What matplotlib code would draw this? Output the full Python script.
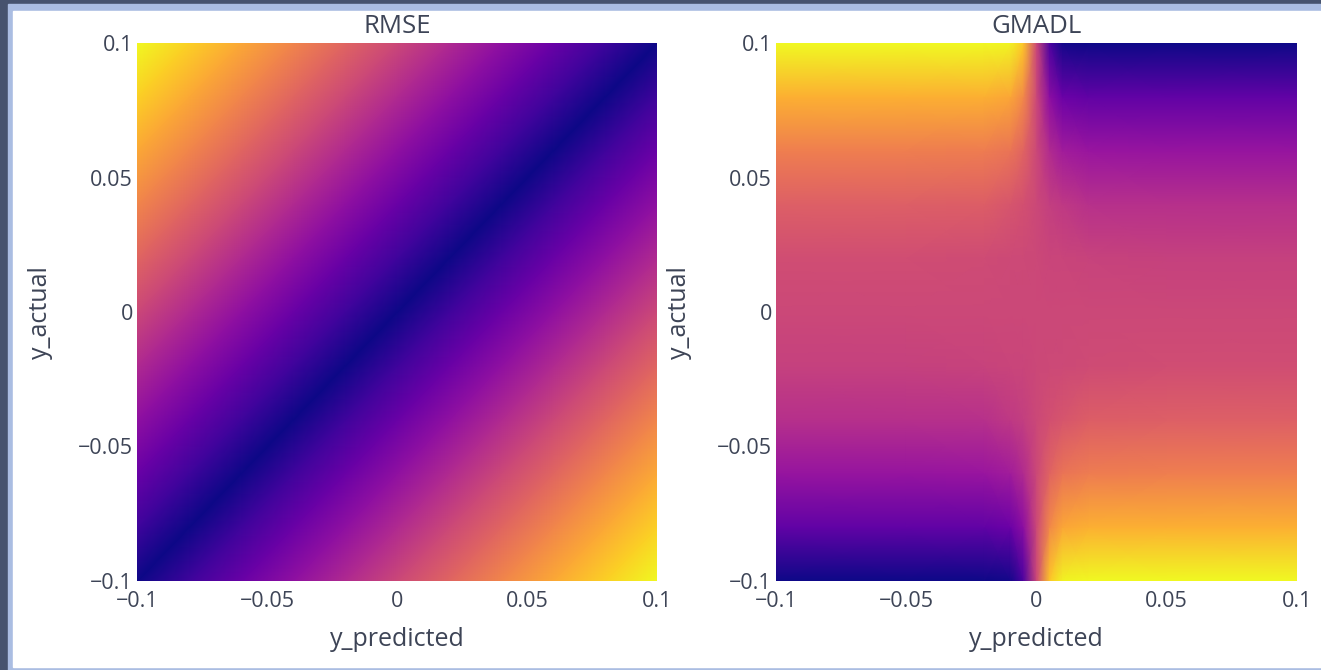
import matplotlib.pyplot as plt
from matplotlib.colors import LinearSegmentedColormap
from matplotlib.patches import Rectangle
import numpy as np

# Grelha de pontos (y_predicted nas colunas, y_actual nas linhas, de baixo para cima)
y_predicted_rmse = [-0.1, -0.08, -0.06, -0.04, -0.02, 0, 0.02, 0.04, 0.06, 0.08, 0.1]
y_actual_rmse = [-0.1, -0.08, -0.06, -0.04, -0.02, 0, 0.02, 0.04, 0.06, 0.08, 0.1]
rmse = [
    [0.00, 0.02, 0.04, 0.06, 0.08, 0.10, 0.12, 0.14, 0.16, 0.18, 0.20],
    [0.02, 0.00, 0.02, 0.04, 0.06, 0.08, 0.10, 0.12, 0.14, 0.16, 0.18],
    [0.04, 0.02, 0.00, 0.02, 0.04, 0.06, 0.08, 0.10, 0.12, 0.14, 0.16],
    [0.06, 0.04, 0.02, 0.00, 0.02, 0.04, 0.06, 0.08, 0.10, 0.12, 0.14],
    [0.08, 0.06, 0.04, 0.02, 0.00, 0.02, 0.04, 0.06, 0.08, 0.10, 0.12],
    [0.10, 0.08, 0.06, 0.04, 0.02, 0.00, 0.02, 0.04, 0.06, 0.08, 0.10],
    [0.12, 0.10, 0.08, 0.06, 0.04, 0.02, 0.00, 0.02, 0.04, 0.06, 0.08],
    [0.14, 0.12, 0.10, 0.08, 0.06, 0.04, 0.02, 0.00, 0.02, 0.04, 0.06],
    [0.16, 0.14, 0.12, 0.10, 0.08, 0.06, 0.04, 0.02, 0.00, 0.02, 0.04],
    [0.18, 0.16, 0.14, 0.12, 0.10, 0.08, 0.06, 0.04, 0.02, 0.00, 0.02],
    [0.20, 0.18, 0.16, 0.14, 0.12, 0.10, 0.08, 0.06, 0.04, 0.02, 0.00],
]

# GMADL (valor relativo)
y_predicted_gmadl = [-0.1, -0.05, -0.02, -0.01, -0.005, 0, 0.005, 0.01, 0.02, 0.05, 0.1]
y_actual_gmadl = [-0.1, -0.08, -0.06, -0.04, -0.02, 0, 0.02, 0.04, 0.06, 0.08, 0.1]
gmadl = [
    [-1.00, -1.00, -1.00, -0.97, -0.75, 0, 0.75, 0.97, 1.00, 1.00, 1.00],
    [-0.64, -0.64, -0.64, -0.59, -0.42, 0, 0.42, 0.59, 0.64, 0.64, 0.64],
    [-0.36, -0.36, -0.35, -0.30, -0.19, 0, 0.19, 0.30, 0.35, 0.36, 0.36],
    [-0.16, -0.16, -0.15, -0.10, -0.06, 0, 0.06, 0.10, 0.15, 0.16, 0.16],
    [-0.04, -0.04, -0.03, -0.015, -0.008, 0, 0.008, 0.015, 0.03, 0.04, 0.04],
    [0, 0, 0, 0, 0, 0, 0, 0, 0, 0, 0],
    [0.04, 0.04, 0.03, 0.015, 0.008, 0, -0.008, -0.015, -0.03, -0.04, -0.04],
    [0.16, 0.16, 0.15, 0.10, 0.06, 0, -0.06, -0.10, -0.15, -0.16, -0.16],
    [0.36, 0.36, 0.35, 0.30, 0.19, 0, -0.19, -0.30, -0.35, -0.36, -0.36],
    [0.64, 0.64, 0.64, 0.59, 0.42, 0, -0.42, -0.59, -0.64, -0.64, -0.64],
    [1.00, 1.00, 1.00, 0.97, 0.75, 0, -0.75, -0.97, -1.00, -1.00, -1.00],
]

ticks = [-0.1, -0.05, 0, 0.05, 0.1]
tick_labels = ["\u22120.1", "\u22120.05", "0", "0.05", "0.1"]

# Escala Plasma do plotly
plasma = LinearSegmentedColormap.from_list("plasma_plotly", [
    "#0d0887", "#46039f", "#7201a8", "#9c179e", "#bd3786",
    "#d8576b", "#ed7953", "#fb9f3a", "#fdca26", "#f0f921"])

plt.rcParams['font.family'] = ['Open Sans', 'DejaVu Sans']
cor_texto = '#3d4456'

W, H = 1321, 670
fig = plt.figure(figsize=(W / 100, H / 100), dpi=100)
fig.patch.set_facecolor('#46536e')

# moldura da janela (captura de ecrã)
fig.patches.append(Rectangle((8 / W, 0), 1, 666 / H, transform=fig.transFigure,
                             color='#aabde2', zorder=-2))
fig.patches.append(Rectangle((13 / W, 3 / H), 1, 656 / H, transform=fig.transFigure,
                             color='white', zorder=-1))


def desenha(x0, x1, x, y, z, titulo, corte_diagonal):
    ax = fig.add_axes([x0 / W, (H - 581) / H, (x1 - x0) / W, 538 / H])
    z = np.array(z)
    if corte_diagonal:
        # triângulos cortados na diagonal (paralela a y = x)
        xx, yy = np.meshgrid(x, y)
        nx, ny = len(x), len(y)
        tri = []
        for i in range(ny - 1):
            for j in range(nx - 1):
                k = i * nx + j
                tri.append([k, k + 1, k + nx + 1])
                tri.append([k, k + nx + 1, k + nx])
        ax.tripcolor(xx.ravel(), yy.ravel(), tri, z.ravel(), cmap=plasma,
                     vmin=z.min(), vmax=z.max(), shading='gouraud')
    else:
        ax.pcolormesh(x, y, z, cmap=plasma, vmin=z.min(), vmax=z.max(),
                      shading='gouraud')
    ax.set_xlim(-0.1, 0.1)
    ax.set_ylim(-0.1, 0.1)
    ax.set_xticks(ticks)
    ax.set_xticklabels(tick_labels)
    ax.set_yticks(ticks)
    ax.set_yticklabels(tick_labels)
    ax.tick_params(length=0, labelsize=15.5, colors=cor_texto)
    ax.tick_params(axis='x', pad=7)
    ax.tick_params(axis='y', pad=3)
    for s in ax.spines.values():
        s.set_visible(False)
    centro = (x0 + x1) / 2
    fig.text(centro / W, 1 - 33 / H, titulo, ha='center', va='baseline',
             fontsize=18.5, color=cor_texto)
    fig.text(centro / W, 1 - 646 / H, "y_predicted", ha='center', va='baseline',
             fontsize=18, color=cor_texto)
    fig.text((x0 - 97) / W, 1 - 312 / H, "y_actual", ha='center', va='center',
             rotation=90, fontsize=18, color=cor_texto)
    return ax


desenha(137, 657, y_predicted_rmse, y_actual_rmse, rmse, "RMSE", True)
desenha(776, 1297, y_predicted_gmadl, y_actual_gmadl, gmadl, "GMADL", False)

fig.savefig("out.png", dpi=100, facecolor=fig.get_facecolor())
